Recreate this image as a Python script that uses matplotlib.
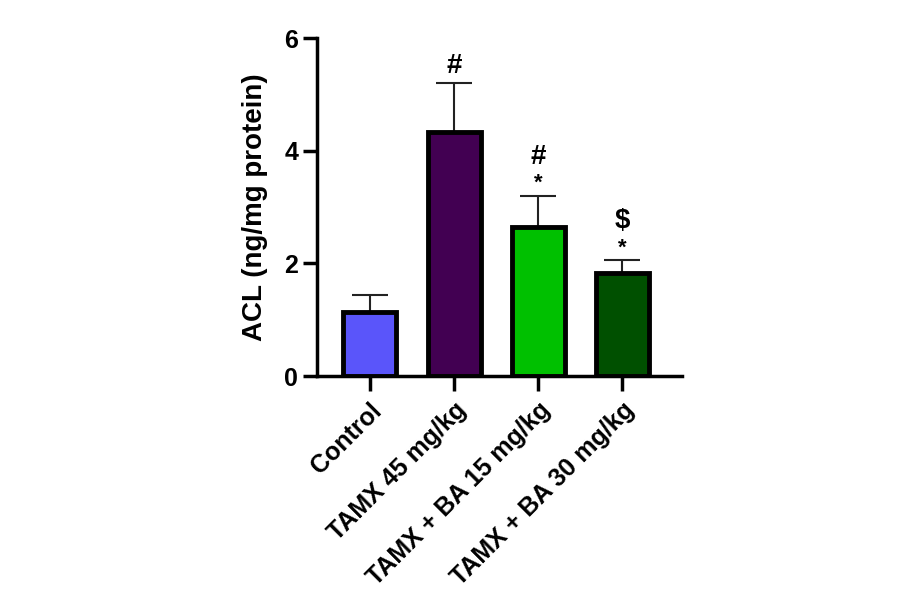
import numpy as np
import matplotlib.pyplot as plt

plt.rcParams['font.family'] = ['Liberation Sans', 'DejaVu Sans']
plt.rcParams['font.weight'] = 'bold'

# Data
groups = ['Control', 'TAMX 45 mg/kg', 'TAMX + BA 15 mg/kg', 'TAMX + BA 30 mg/kg']
means = [1.14, 4.34, 2.65, 1.82]
sems = [0.30, 0.87, 0.55, 0.24]
colors = ['#5a55fa', '#420052', '#00c000', '#005000']
marks_top = ['', '#', '#', '$']
marks_low = ['', '', '*', '*']

fig = plt.figure(figsize=(9, 5.94), dpi=100)
ax = fig.add_axes([0.352, 0.367, 0.406, 0.569])

x = np.arange(len(groups))
ax.bar(x, means, width=0.63, color=colors, edgecolor='black', linewidth=3.5, zorder=2)
ax.errorbar(x, means, yerr=[np.zeros(len(sems)), sems], fmt='none', ecolor='#222222',
            elinewidth=1.5, capsize=13, capthick=1.5, zorder=1)

for i in range(len(groups)):
    top = means[i] + sems[i]
    if marks_low[i]:
        ax.text(x[i], top + 0.03, marks_low[i], ha='center', va='bottom', fontsize=16, fontweight='bold')
        ax.text(x[i], top + 0.46, marks_top[i], ha='center', va='bottom', fontsize=20, fontweight='bold')
    elif marks_top[i]:
        ax.text(x[i], top + 0.07, marks_top[i], ha='center', va='bottom', fontsize=20, fontweight='bold')

ax.set_xlim(-0.63, 3.71)
ax.set_ylim(0, 6)
ax.set_yticks([0, 2, 4, 6])
ax.set_xticks(x)
ax.set_xticklabels(groups, rotation=45, ha='right', rotation_mode='anchor', fontsize=18, fontweight='bold')
ax.set_ylabel('ACL (ng/mg protein)', fontsize=20, fontweight='bold', labelpad=12)

for side in ['top', 'right']:
    ax.spines[side].set_visible(False)
for side in ['left', 'bottom']:
    ax.spines[side].set_linewidth(2.5)
ax.tick_params(axis='y', width=2.5, length=10, labelsize=18)
ax.tick_params(axis='x', width=2.5, length=11, pad=5)

fig.savefig('out.png', dpi=100)
